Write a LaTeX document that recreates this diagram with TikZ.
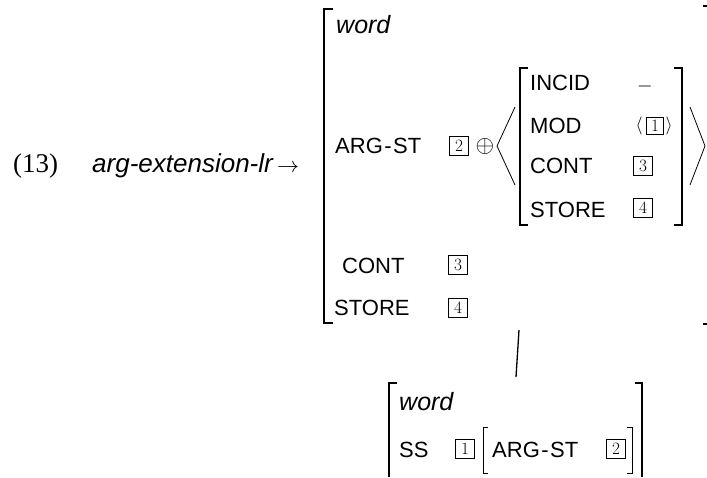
\documentclass[tikz,border=0pt]{standalone}
\usepackage{graphicx}
\usepackage[no-math]{fontspec}
\setmainfont{Liberation Serif}
\setsansfont{Liberation Sans}

\begin{document}
\begin{tikzpicture}[x=1pt,y=-1pt,
  feat/.style={anchor=base west,inner sep=0pt,font=\fontsize{22}{26}\selectfont\sffamily},
  typ/.style={anchor=base west,inner sep=0pt,font=\fontsize{25}{30}\selectfont\sffamily\itshape},
  sym/.style={inner sep=0pt},
  tag/.style={draw,line width=1.4pt,inner sep=0pt,minimum size=18.5pt,font=\fontsize{17}{17}\selectfont},
  bigbrack/.style={line width=2pt},
  brack/.style={line width=1.3pt},
  thinbrack/.style={line width=0.8pt}]
  \useasboundingbox (0,0) rectangle (707,477);

  % the rule name
  \node[anchor=base west,inner sep=0pt,font=\fontsize{27}{30}\selectfont] (num) at (13,172) {(13)};
  \node[typ,font=\fontsize{26}{30}\selectfont\sffamily\itshape] (rule) at (92,172) {arg-extension-lr};
  \node[sym,anchor=west] (arrow) at (277,168) {\scalebox{2.2}{$\rightarrow$}};

  % the outer avm
  \draw[bigbrack] (333,9) -- (324,9) -- (324,323) -- (333,323);
  \draw[bigbrack] (703,6) -- (707,6);
  \draw[bigbrack] (703,324) -- (707,324);
  \node[typ] (word1) at (336,33) {word};
  \node[feat] (argst1) at (335,153) {ARG\kern1.5pt-\kern1.5pt ST};
  \node[tag] (t2a) at (459,146) {$2$};
  \node[sym] (oplus) at (485,146) {\scalebox{2.4}{$\oplus$}};
  \node[feat] (cont1) at (342,273) {CONT};
  \node[tag] (t3a) at (458,265) {$3$};
  \node[feat] (store1) at (334,315) {STORE};
  \node[tag] (t4a) at (458,308) {$4$};

  % the list with the inner avm
  \draw[thinbrack] (515,107) -- (497,146) -- (515,185);
  \draw[thinbrack] (690,107) -- (705,146) -- (690,185);
  \draw[brack] (528,68) -- (520,68) -- (520,225) -- (528,225);
  \draw[brack] (674,68) -- (682,68) -- (682,225) -- (674,225);
  \node[feat] (incid) at (530,90) {INCID};
  \node[sym] (minus) at (645,86) {\scalebox{2}{$-$}};
  \node[feat] (mod) at (530,133) {MOD};
  \node[sym] (lang) at (639,126) {\scalebox{1.8}{$\langle$}};
  \node[tag,minimum size=17pt] (t1a) at (655,126) {$1$};
  \node[sym] (rang) at (669,126) {\scalebox{1.8}{$\rangle$}};
  \node[feat] (cont2) at (530,173) {CONT};
  \node[tag] (t3b) at (643,166) {$3$};
  \node[feat] (store2) at (530,217) {STORE};
  \node[tag] (t4b) at (643,208) {$4$};

  % the branch
  \coordinate (up) at (519,330);
  \coordinate (down) at (516,377);
  \draw[brack] (up) -- (down);

  % the lower avm
  \draw[bigbrack] (397,383) -- (389,383) -- (389,477);
  \draw[bigbrack] (635,383) -- (642,383) -- (642,477);
  \node[typ] (word2) at (399,410) {word};
  \node[feat] (ss) at (399,457) {SS};
  \node[tag] (t1b) at (465,449) {$1$};
  \draw[thinbrack] (488,427) -- (483,427) -- (483,473) -- (488,473);
  \draw[thinbrack] (627,427) -- (632,427) -- (632,473) -- (627,473);
  \node[feat] (argst2) at (492,457) {ARG\kern1.5pt-\kern1.5pt ST};
  \node[tag] (t2b) at (616,449) {$2$};
\end{tikzpicture}
\end{document}
